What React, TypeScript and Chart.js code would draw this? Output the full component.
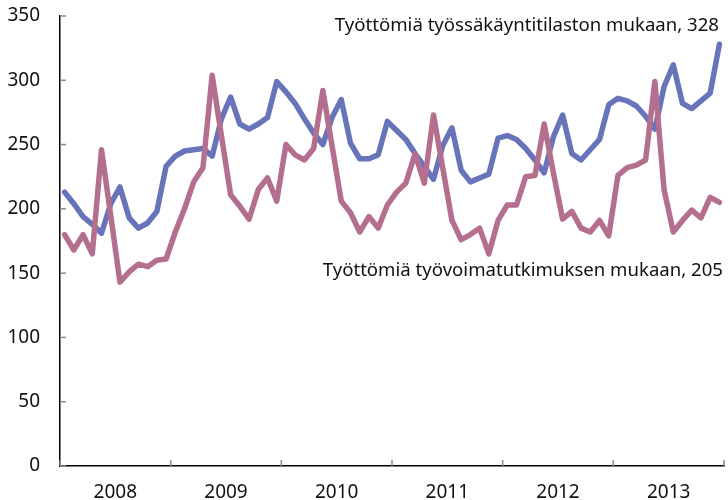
import { useEffect, useRef } from 'react';
import { Chart, registerables } from 'chart.js';

Chart.register(...registerables);

const years = ['2008', '2009', '2010', '2011', '2012', '2013'];
const monthsPerYear = 12;
const yTickValues = [0, 50, 100, 150, 200, 250, 300, 350];

// Työttömiä työssäkäyntitilaston mukaan (blue), monthly 2008–2013
const registeredSeries = [
  213, 204, 194, 188, 181, 204, 217, 193, 185, 189, 198, 233,
  241, 245, 246, 247, 241, 270, 287, 266, 262, 266, 271, 299,
  291, 282, 270, 259, 250, 271, 285, 251, 239, 239, 242, 268,
  261, 254, 243, 233, 223, 249, 263, 230, 221, 224, 227, 255,
  257, 254, 247, 238, 228, 256, 273, 243, 238, 246, 254, 281,
  286, 284, 280, 272, 262, 295, 312, 282, 278, 284, 290, 328,
];

// Työttömiä työvoimatutkimuksen mukaan (pink), monthly 2008–2013
const surveySeries = [
  180, 168, 180, 165, 246, 195, 143, 151, 157, 155, 160, 161,
  182, 200, 221, 232, 304, 257, 211, 202, 192, 215, 224, 206,
  250, 242, 238, 247, 292, 249, 206, 197, 182, 194, 185, 203,
  213, 220, 243, 220, 273, 232, 191, 176, 180, 185, 165, 191,
  203, 203, 225, 226, 266, 228, 192, 198, 185, 182, 191, 179,
  226, 232, 234, 238, 299, 215, 182, 191, 199, 193, 209, 205,
];

const registeredLabel = `Työttömiä työssäkäyntitilaston mukaan, ${registeredSeries[registeredSeries.length - 1]}`;
const surveyLabel = `Työttömiä työvoimatutkimuksen mukaan, ${surveySeries[surveySeries.length - 1]}`;

const BLUE = '#6774ba';
const PINK = '#b46f8f';
const FONT = '"Noto Sans", "Open Sans", sans-serif';

const toPoints = (arr: number[]) => arr.map((v, i) => ({ x: i + 0.5, y: v }));

const decorPlugin = {
  id: 'decor',
  afterDraw(chart: any) {
    const { ctx, chartArea, scales } = chart;
    const xs = scales.x;
    const ys = scales.y;
    ctx.save();
    ctx.strokeStyle = '#8a8a8a';
    ctx.lineWidth = 1.5;
    yTickValues.forEach((v) => {
      const py = ys.getPixelForValue(v);
      ctx.beginPath();
      ctx.moveTo(chartArea.left, py);
      ctx.lineTo(chartArea.left + 6, py);
      ctx.stroke();
    });
    for (let k = 0; k <= years.length; k++) {
      const px = xs.getPixelForValue(k * monthsPerYear);
      ctx.beginPath();
      ctx.moveTo(px, chartArea.bottom);
      ctx.lineTo(px, chartArea.bottom - 6);
      ctx.stroke();
    }
    ctx.fillStyle = '#111';
    ctx.font = `18.6px ${FONT}`;
    ctx.textAlign = 'right';
    ctx.textBaseline = 'alphabetic';
    ctx.fillText(registeredLabel, chartArea.right - 5, chartArea.top + 15);
    ctx.fillText(surveyLabel, chartArea.right - 1, chartArea.top + 260);
    ctx.restore();
  },
};

export default function App() {
  const canvasRef = useRef<HTMLCanvasElement | null>(null);

  useEffect(() => {
    if (!canvasRef.current) return;
    const chart = new Chart(canvasRef.current, {
      type: 'line',
      data: {
        datasets: [
          {
            label: surveyLabel,
            data: toPoints(surveySeries),
            borderColor: PINK,
            borderWidth: 5.5,
            pointRadius: 0,
            tension: 0,
            borderJoinStyle: 'round',
            borderCapStyle: 'round',
            order: 0,
          },
          {
            label: registeredLabel,
            data: toPoints(registeredSeries),
            borderColor: BLUE,
            borderWidth: 5.5,
            pointRadius: 0,
            tension: 0,
            borderJoinStyle: 'round',
            borderCapStyle: 'round',
            order: 1,
          },
        ],
      },
      options: {
        animation: false,
        responsive: true,
        maintainAspectRatio: false,
        layout: { padding: { top: 16, right: 4, left: 0, bottom: 0 } },
        plugins: {
          legend: { display: false },
          tooltip: { enabled: false },
        },
        font: { family: FONT, size: 19 },
        scales: {
          x: {
            type: 'linear',
            min: 0,
            max: years.length * monthsPerYear,
            grid: { display: false, drawTicks: false },
            border: { display: true, color: '#000', width: 1.5 },
            ticks: {
              padding: 15,
              autoSkip: false,
              maxRotation: 0,
              color: '#111',
              font: { family: FONT, size: 19 },
              callback: (v: any) => years[Math.round((Number(v) - monthsPerYear / 2) / monthsPerYear)] ?? '',
            },
            afterBuildTicks: (scale: any) => {
              scale.ticks = years.map((_, i) => ({ value: i * monthsPerYear + monthsPerYear / 2 }));
            },
            afterFit: (scale: any) => {
              scale.height = 34;
              scale.paddingLeft = 0;
              scale.paddingRight = 0;
              scale.paddingTop = 0;
              scale.paddingBottom = 0;
            },
          },
          y: {
            min: 0,
            max: 350,
            grid: { display: false, drawTicks: false },
            border: { display: true, color: '#000', width: 1.5 },
            ticks: {
              stepSize: 50,
              padding: 20,
              color: '#111',
              font: { family: FONT, size: 19 },
            },
            afterBuildTicks: (scale: any) => {
              scale.ticks = yTickValues.map((v) => ({ value: v }));
            },
            afterFit: (scale: any) => {
              scale.width = 60;
              scale.paddingTop = 0;
              scale.paddingBottom = 0;
            },
          },
        },
      } as any,
      plugins: [decorPlugin],
    });
    return () => chart.destroy();
  }, []);

  return (
    <div style={{ position: 'fixed', left: 0, top: 0, width: 728, height: 500, background: '#fff' }}>
      <canvas ref={canvasRef} />
    </div>
  );
}
